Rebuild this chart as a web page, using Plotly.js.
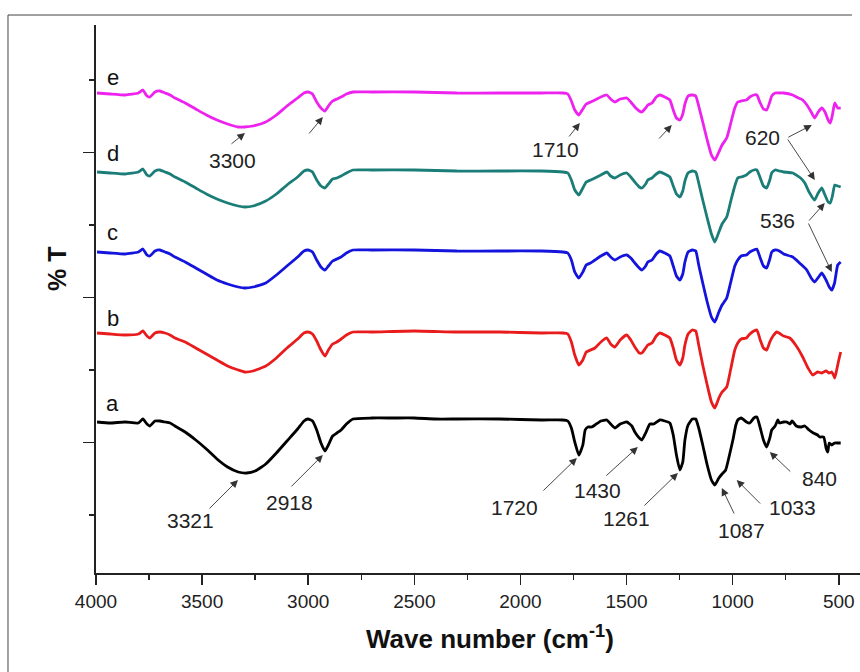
<!DOCTYPE html>
<html>
<head>
<meta charset="utf-8">
<script src="https://cdn.plot.ly/plotly-3.0.1.min.js"></script>
<style>html,body{margin:0;padding:0;background:#fff;}#chart{width:860px;height:672px;}</style>
</head>
<body>
<div id="chart"></div>
<script>
// Wavenumbers (cm-1) and %T values (offset spectra)
const wnA = [3995,3934,3863,3800,3779,3760,3746,3722,3699,3675,3651,3628,3580,3530,3480,3430,3380,3330,3290,3250,3200,3150,3100,3050,3020,3001,2980,2960,2940,2921,2905,2885,2865,2845,2820,2789,2700,2600,2500,2400,2300,2100,1900,1800,1777,1760,1744,1725,1706,1695,1682,1665,1649,1621,1593,1575,1555,1530,1499,1475,1461,1440,1428,1410,1400,1390,1372,1343,1320,1296,1280,1265,1249,1235,1225,1210,1190,1174,1160,1141,1120,1100,1084,1065,1050,1033,1015,999,985,976,960,935,919,900,886,870,855,840,825,816,800,787,780,760,745,730,720,700,680,660,640,620,600,590,571,560,552,545,533,520,505,491];
const tA = [35.6,35.4,35.6,35.4,36.2,35.2,34.8,35.8,35.8,35.6,35.4,34.8,33.6,32.0,30.2,28.2,26.6,25.6,25.4,25.8,27.2,29.4,31.8,34.2,35.8,36.2,35.8,34.0,31.4,29.8,31.0,32.8,33.4,34.0,35.2,36.2,36.4,36.4,36.4,36.2,36.2,36.2,36.0,36.0,35.8,34.4,31.6,29.0,31.0,34.0,34.6,34.6,35.0,35.8,36.0,35.2,34.4,35.2,35.6,34.8,33.6,32.4,32.0,33.4,34.4,35.2,35.2,36.0,35.8,35.4,33.0,29.0,26.0,27.6,32.0,35.0,36.2,36.2,34.4,31.0,27.0,24.0,23.0,24.4,25.2,26.0,29.0,32.0,35.0,36.0,36.4,35.6,35.4,36.4,36.6,34.4,32.0,30.6,32.4,34.0,34.8,36.0,35.4,35.6,35.6,35.2,35.8,34.8,34.6,34.8,34.0,33.4,33.0,32.6,32.6,30.4,29.6,31.4,31.0,31.4,31.4,31.4];

const wnB = [3995,3934,3863,3800,3779,3760,3746,3722,3699,3675,3651,3628,3580,3530,3480,3430,3380,3330,3300,3260,3200,3150,3100,3050,3020,3001,2980,2960,2940,2921,2905,2885,2865,2845,2820,2789,2700,2500,2300,2100,1900,1800,1777,1760,1744,1725,1706,1690,1670,1649,1621,1593,1575,1555,1530,1499,1480,1461,1440,1428,1410,1400,1380,1360,1343,1320,1296,1280,1265,1249,1235,1225,1210,1190,1174,1160,1141,1120,1100,1084,1065,1050,1028,1010,990,976,960,935,919,900,886,870,855,840,825,810,792,760,731,700,670,645,623,600,580,560,545,533,525,519,510,500,491];
const tB = [53.4,53.2,53.0,53.2,53.8,52.8,52.4,53.4,53.6,53.4,53.0,52.4,51.6,50.4,49.2,48.0,46.8,46.0,45.6,45.8,46.8,48.4,50.4,52.2,53.4,53.6,53.2,51.8,50.0,48.8,50.0,51.2,51.6,52.2,53.0,53.6,53.6,53.8,53.6,53.6,53.4,53.4,53.2,51.6,49.0,47.0,48.0,49.6,50.0,50.4,51.6,52.4,51.2,50.6,52.0,53.0,52.0,50.6,49.4,49.4,50.4,51.0,51.4,52.8,53.4,53.0,52.4,50.4,48.0,47.0,48.4,51.0,53.2,54.0,53.8,51.0,47.0,43.0,39.6,38.4,40.4,41.6,42.6,46.0,50.0,51.4,52.2,52.4,53.2,53.8,54.0,52.0,50.4,50.0,51.6,52.8,53.6,52.8,52.4,50.8,48.6,46.4,45.0,45.6,45.4,45.8,45.4,45.6,45.0,44.4,46.0,48.0,49.6];

const wnC = [3995,3934,3863,3800,3779,3760,3746,3722,3699,3675,3651,3628,3580,3530,3480,3430,3380,3330,3300,3260,3200,3150,3100,3050,3020,3001,2980,2960,2940,2921,2905,2885,2865,2845,2820,2789,2700,2500,2300,2100,1900,1800,1777,1760,1744,1725,1706,1690,1670,1649,1621,1593,1575,1555,1530,1499,1480,1461,1440,1428,1410,1400,1380,1360,1343,1320,1296,1280,1265,1249,1235,1225,1210,1190,1174,1160,1141,1120,1100,1084,1065,1050,1028,1010,990,976,960,935,919,900,886,870,855,840,825,816,800,780,760,717,680,651,630,614,595,580,560,545,533,520,505,491];
const tC = [69.6,69.4,69.2,69.6,70.2,69.0,68.8,69.8,70.0,69.6,69.2,68.6,67.6,66.4,65.2,64.0,63.2,62.6,62.4,62.6,63.4,65.0,66.8,68.6,69.8,70.0,69.6,68.0,66.6,66.0,66.8,67.8,68.2,68.6,69.4,70.0,70.0,70.0,69.8,69.8,69.8,69.6,69.4,68.0,65.6,64.4,65.6,67.0,67.4,68.0,68.8,69.4,68.6,68.0,68.6,69.0,68.4,67.4,66.4,66.0,66.8,67.6,68.0,69.2,69.8,69.4,68.8,66.8,64.8,64.0,65.2,67.6,69.6,70.0,69.8,67.0,63.4,59.6,56.6,55.6,57.6,59.0,60.4,63.4,66.8,68.0,68.8,69.0,69.6,70.0,70.2,68.4,66.8,66.4,68.2,69.6,70.0,69.8,69.2,68.6,67.2,66.0,64.4,63.6,64.6,65.4,64.0,62.6,62.0,63.4,67.0,67.6];

const wnD = [3995,3934,3863,3800,3779,3760,3746,3722,3699,3675,3651,3628,3580,3530,3480,3430,3380,3330,3300,3260,3200,3150,3100,3050,3020,3001,2980,2960,2940,2921,2905,2885,2865,2845,2820,2789,2700,2500,2300,2100,1900,1800,1777,1760,1744,1725,1706,1690,1670,1649,1621,1593,1575,1555,1530,1499,1480,1461,1440,1428,1410,1400,1380,1360,1343,1320,1296,1280,1265,1249,1235,1225,1210,1190,1174,1160,1141,1120,1100,1084,1065,1050,1028,1010,990,976,960,935,919,900,886,870,855,840,825,816,800,780,760,717,680,660,640,614,597,580,565,550,540,530,519,505,491];
const tD = [85.6,85.4,85.2,85.6,86.2,85.0,84.8,85.8,86.0,85.6,85.2,84.6,83.6,82.4,81.2,80.2,79.4,78.8,78.6,78.8,79.8,81.2,83.0,84.6,85.8,86.0,85.6,84.0,82.8,82.4,83.2,84.2,84.4,84.8,85.4,86.0,86.0,86.0,85.8,85.8,85.8,85.6,85.4,84.0,82.0,81.0,82.4,83.6,84.0,84.4,85.0,85.6,84.8,84.4,85.0,85.4,84.6,83.6,82.6,82.4,83.2,84.0,84.4,85.2,85.6,85.2,84.6,82.8,81.2,80.6,81.8,83.8,85.4,85.8,85.6,83.4,80.0,76.4,73.2,71.6,73.6,75.2,76.6,79.6,82.8,84.4,84.6,85.0,85.6,86.0,86.0,84.4,82.8,82.4,84.0,85.4,86.0,85.8,85.6,85.4,84.4,83.4,81.6,80.0,81.4,82.4,81.0,79.6,79.4,80.8,83.0,82.8,82.6];

const wnE = [3995,3934,3863,3800,3779,3760,3746,3722,3699,3675,3651,3628,3580,3530,3480,3430,3380,3330,3300,3260,3200,3150,3100,3050,3020,3001,2980,2960,2940,2921,2905,2885,2865,2845,2820,2789,2700,2500,2300,2100,1900,1800,1777,1760,1744,1725,1706,1690,1670,1649,1621,1593,1575,1555,1530,1499,1480,1461,1440,1428,1410,1400,1380,1360,1343,1320,1296,1280,1265,1249,1235,1225,1210,1190,1174,1160,1141,1120,1100,1084,1065,1050,1028,1010,990,976,960,935,919,900,886,870,855,840,825,816,800,780,760,717,690,670,650,630,614,597,580,565,550,540,530,519,505,491];
const tE = [101.4,101.2,101.0,101.4,102.0,100.8,100.6,101.6,101.8,101.4,101.0,100.4,99.4,98.2,97.0,96.0,95.2,94.6,94.6,94.8,95.6,97.0,98.8,100.4,101.4,101.6,101.2,99.6,98.4,97.8,98.8,99.8,100.2,100.6,101.2,101.6,101.6,101.6,101.4,101.4,101.4,101.4,101.2,99.8,98.0,97.0,98.2,99.2,99.6,100.0,100.6,101.0,100.2,99.6,100.2,100.4,99.6,98.6,97.8,97.6,98.4,99.0,99.4,100.6,101.0,100.6,100.0,98.0,96.4,96.0,97.2,99.2,100.8,101.0,100.8,98.8,95.6,92.0,89.0,88.0,89.6,91.0,92.4,95.2,98.4,99.6,99.8,100.0,100.6,101.0,101.0,99.4,98.2,98.0,99.6,100.8,101.4,101.4,101.4,101.0,100.4,100.0,99.0,97.6,96.4,97.6,98.4,97.6,96.0,95.4,97.0,99.4,98.4,98.4];

const seriesNames = ['a','b','c','d','e'];
const seriesColors = ['#000000','#e81c1c','#1414dc','#1b7d78','#ee22ee'];
const xTicks = [4000,3500,3000,2500,2000,1500,1000,500];

// Peak labels: [text, wavenumber, %T]
const peakLabels = [
  ['3321',3557,16.0],['2918',3086,19.6],['1720',2026,18.6],['1430',1635,22.0],
  ['1261',1499,16.4],['1087',957,14.0],['1033',717,18.6],['840',590,24.4],
  ['3300',3359,88.0],['1710',1833,90.2],['620',858,92.6],['536',787,76.0]
];
// Arrow tips: [wavenumber, %T, tail dx(px), tail dy(px)]
const arrowTips = [
  [3331,24.0,-30,30],[2931,29.0,-33,33],[1734,28.4,-35,34],[1447,30.6,-33,30],
  [1258,25.4,-35,34],[1051,22.4,13,27],[981,24.0,25,25],[825,29.6,22,21],
  [3298,93.4,-15,12],[2931,96.6,-15,18],[1720,95.4,-12,15],[1287,95.0,-14,15],
  [627,95.0,-25,13],[613,84.0,-28,-42],[566,79.4,-17,19],[533,65.6,-24,-50]
];
// Curve letters: [letter, wavenumber, %T]
const curveLabels = [['e',3920,104.6],['d',3920,89.4],['c',3920,73.6],['b',3920,56.4],['a',3920,39.4]];

const xs = [wnA,wnB,wnC,wnD,wnE];
const ys = [tA,tB,tC,tD,tE];
const traces = xs.map((x,i)=>({
  x:x, y:ys[i], type:'scatter', mode:'lines', name:seriesNames[i],
  line:{color:seriesColors[i], width:2.8, shape:'spline', smoothing:0.45}
}));

const FF = 'Liberation Sans, Arial, sans-serif';
const annFont = {family:FF, size:21, color:'#222'};
const annotations = [];
peakLabels.forEach(p=>annotations.push({x:p[1],y:p[2],xref:'x',yref:'y',text:p[0],showarrow:false,
  xanchor:'center',yanchor:'middle',font:annFont}));
arrowTips.forEach(a=>annotations.push({x:a[0],y:a[1],xref:'x',yref:'y',text:'',showarrow:true,ax:a[2],ay:a[3],
  arrowhead:2,arrowsize:1.7,arrowwidth:0.9,arrowcolor:'#333',standoff:0,startstandoff:0}));
curveLabels.forEach(c=>annotations.push({x:c[1],y:c[2],xref:'x',yref:'y',text:c[0],showarrow:false,
  xanchor:'center',yanchor:'middle',font:{family:FF,size:22,color:'#111'}}));
annotations.push({xref:'paper',yref:'paper',x:-0.0510,y:0.555,xanchor:'center',yanchor:'middle',
  text:'<b>% T</b>',textangle:-90,showarrow:false,font:{family:FF,size:25,color:'#111'}});
annotations.push({xref:'paper',yref:'paper',x:0.5157,y:-0.1186,xanchor:'center',yanchor:'middle',
  text:'<b>Wave number (cm<sup>-1</sup>)</b>',showarrow:false,font:{family:FF,size:26,color:'#111'}});

const layout = {
  width:860, height:672,
  margin:{l:96,r:0,t:25,b:99},
  paper_bgcolor:'#fff', plot_bgcolor:'#fff',
  showlegend:false,
  xaxis:{
    range:[4000,400], tickvals:xTicks, ticktext:xTicks.map(String),
    ticks:'outside', ticklen:10, tickwidth:1.5, tickcolor:'#222',
    minor:{dtick:250, tick0:0, ticks:'outside', ticklen:5, tickwidth:1.5, tickcolor:'#222'},
    showline:true, linecolor:'#222', linewidth:2, showgrid:false, zeroline:false,
    tickfont:{family:FF, size:19, color:'#222'}
  },
  yaxis:{
    range:[5.4,115], tick0:2.5, dtick:29, showticklabels:false,
    ticks:'outside', ticklen:11, tickwidth:1.5, tickcolor:'#222',
    minor:{tick0:2.5, dtick:14.5, ticks:'outside', ticklen:5, tickwidth:1.5, tickcolor:'#222'},
    showline:true, linecolor:'#222', linewidth:2, showgrid:false, zeroline:false
  },
  annotations:annotations,
  shapes:[
    {type:'line',xref:'paper',yref:'paper',x0:-0.1152,x1:0.9895,y0:1.0182,y1:1.0182,line:{color:'#444',width:1}},
    {type:'line',xref:'paper',yref:'paper',x0:-0.1152,x1:-0.1152,y0:1.0182,y1:-0.19,line:{color:'#444',width:1}}
  ]
};
Plotly.newPlot('chart', traces, layout, {displayModeBar:false, staticPlot:true});
</script>
</body>
</html>
